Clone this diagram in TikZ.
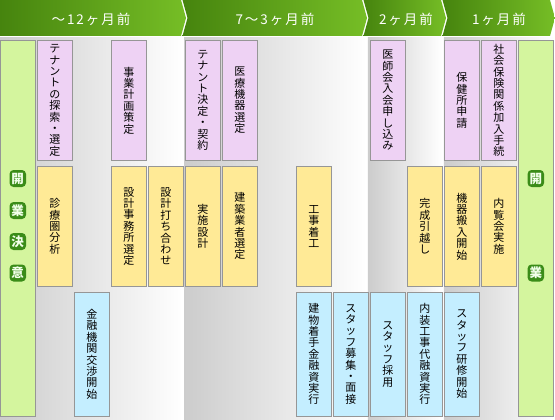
\documentclass[tikz,border=0pt]{standalone}
\usepackage{fontspec}
\newfontfamily\cjk{Noto Sans CJK JP}
\definecolor{hdark}{RGB}{70,132,14}
\definecolor{hlight}{RGB}{118,190,38}
\definecolor{pinkc}{RGB}{238,210,244}
\definecolor{yelc}{RGB}{255,234,150}
\definecolor{bluec}{RGB}{196,238,255}
\definecolor{greenc}{RGB}{212,245,158}
\definecolor{bord}{RGB}{150,150,150}
\definecolor{gdark}{RGB}{58,140,24}
\definecolor{glight}{RGB}{242,255,234}
\definecolor{panelgray}{RGB}{204,204,204}
\makeatletter
\newcommand\vstack[1]{\vbox{\baselineskip=11.4pt\lineskiplimit=-\maxdimen
  \@tfor\vch:=#1\do{\hbox to 12pt{\hss\vch\hss}}}}
\newcommand\htxt[1]{\@tfor\vch:=#1\do{\vch\kern2pt}\unkern}
\makeatother
\tikzset{
  cell/.style={draw=bord, line width=0.9pt, inner sep=0pt, minimum width=35.3pt,
    font=\cjk\fontsize{11}{11}\selectfont, text=black},
  pinkcell/.style={cell, fill=pinkc, minimum height=120.7pt},
  yelcell/.style={cell, fill=yelc, minimum height=120.7pt},
  bluecell/.style={cell, fill=bluec, minimum height=123.7pt},
  sidecell/.style={draw=bord, line width=0.9pt, fill=greenc, inner sep=0pt,
    minimum height=376pt},
  badge/.style={fill=gdark, rounded corners=4pt, text=glight, inner sep=0pt,
    minimum width=16.5pt, minimum height=17pt,
    font=\cjk\bfseries\fontsize{12.5}{12.5}\selectfont},
  headtxt/.style={text=white, font=\cjk\fontsize{13.5}{13.5}\selectfont, inner sep=0pt},
  headseg/.style={left color=hdark, right color=hlight},
  panel/.style={left color=panelgray, right color=white},
}
\begin{document}
\begin{tikzpicture}[x=1pt,y=-1pt]
\useasboundingbox (0,0) rectangle (555,420);
% header
\shade[headseg] (0,0) -- (181,0) -- (186,18) -- (181,36) -- (0,36) -- cycle;
\shade[headseg] (182.5,0) -- (362,0) -- (367,18) -- (362,36) -- (182.5,36) -- (187.5,18) -- cycle;
\shade[headseg] (363.5,0) -- (441,0) -- (446,18) -- (441,36) -- (363.5,36) -- (368.5,18) -- cycle;
\shade[headseg] (442.5,0) -- (550,0) -- (555,18) -- (550,36) -- (442.5,36) -- (447.5,18) -- cycle;
\node[headtxt] (h1) at (91,19) {\htxt{～12ヶ月前}};
\node[headtxt] (h2) at (275,19) {\htxt{7～3ヶ月前}};
\node[headtxt] (h3) at (406,19) {\htxt{2ヶ月前}};
\node[headtxt] (h4) at (499,19) {\htxt{1ヶ月前}};
% panels
\shade[panel] (0,38) rectangle (182.7,420);
\shade[panel] (184,38) rectangle (366.5,420);
\shade[panel] (367.8,38) rectangle (442.5,420);
\shade[panel] (443.8,38) rectangle (555,420);
% side boxes
\node[sidecell, minimum width=34.6pt] (start) at (17.75,228) {};
\node[badge] (s1) at (17.75,178.5) {開};
\node[badge] (s2) at (17.75,210.5) {業};
\node[badge] (s3) at (17.75,241.5) {決};
\node[badge] (s4) at (17.75,273) {意};
\node[sidecell, minimum width=35pt] (open) at (535.8,228) {};
\node[badge] (o1) at (535.8,178.5) {開};
\node[badge] (o2) at (535.8,273) {業};
% column 0
\node[pinkcell] (p0) at (54.9,100.35) {\vstack{テナントの探索・選定}};
\node[yelcell] (y0) at (54.9,226.35) {\vstack{診療圏分析}};
% column 1
\node[bluecell] (b1) at (91.9,354.15) {\vstack{金融機関交渉開始}};
% column 2
\node[pinkcell] (p2) at (128.9,100.35) {\vstack{事業計画策定}};
\node[yelcell] (y2) at (128.9,226.35) {\vstack{設計事務所選定}};
% column 3
\node[yelcell] (y3) at (165.9,226.35) {\vstack{設計打ち合わせ}};
% column 4
\node[pinkcell] (p4) at (202.9,100.35) {\vstack{テナント決定・契約}};
\node[yelcell] (y4) at (202.9,226.35) {\vstack{実施設計}};
% column 5
\node[pinkcell] (p5) at (239.9,100.35) {\vstack{医療機器選定}};
\node[yelcell] (y5) at (239.9,226.35) {\vstack{建築業者選定}};
% column 7
\node[yelcell] (y7) at (313.9,226.35) {\vstack{工事着工}};
\node[bluecell] (b7) at (313.9,354.15) {\vstack{建物着手金融資実行}};
% column 8
\node[bluecell] (b8) at (350.9,354.15) {\vstack{スタッフ募集・面接}};
% column 9
\node[pinkcell] (p9) at (387.9,100.35) {\vstack{医師会入会申し込み}};
\node[bluecell] (b9) at (387.9,354.15) {\vstack{スタッフ採用}};
% column 10
\node[yelcell] (y10) at (424.9,226.35) {\vstack{完成引越し}};
\node[bluecell] (b10) at (424.9,354.15) {\vstack{内装工事代融資実行}};
% column 11
\node[pinkcell] (p11) at (461.9,100.35) {\vstack{保健所申請}};
\node[yelcell] (y11) at (461.9,226.35) {\vstack{機器搬入開始}};
\node[bluecell] (b11) at (461.9,354.15) {\vstack{スタッフ研修開始}};
% column 12
\node[pinkcell] (p12) at (498.9,100.35) {\vstack{社会保険関係加入手続}};
\node[yelcell] (y12) at (498.9,226.35) {\vstack{内覧会実施}};
\end{tikzpicture}
\end{document}
